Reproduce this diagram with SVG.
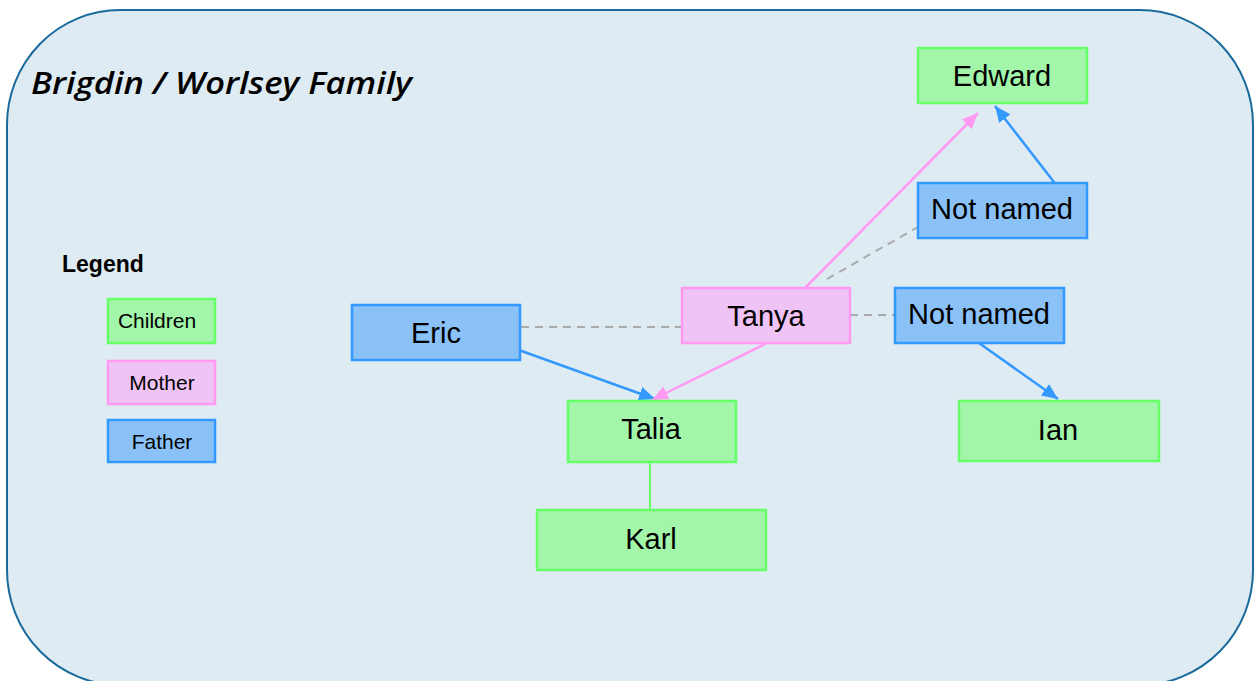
<svg xmlns="http://www.w3.org/2000/svg" width="1254" height="681" viewBox="0 0 1254 681">
<defs>
<style>
.bg{fill:#deebf3;stroke:#1a6a9c;stroke-width:2}
.child{fill:#a3f5aa;stroke:#66ff66;stroke-width:2.5}
.father{fill:#8ac2f8;stroke:#3399ff;stroke-width:2.5}
.mother{fill:#f0c3f6;stroke:#ff99f2;stroke-width:2.5}
.lbl{font-family:"Liberation Sans",Arial,sans-serif;font-size:29px;fill:#000;text-anchor:middle}
.leg{font-family:"Liberation Sans",Arial,sans-serif;font-size:21px;fill:#000;text-anchor:middle}
.blue{stroke:#3399ff;stroke-width:2.5;fill:none}
.pink{stroke:#ff99f2;stroke-width:2.5;fill:none}
.dash{stroke:#aaaaaa;stroke-width:2;stroke-dasharray:8,6;fill:none}
.green{stroke:#66ff66;stroke-width:2;fill:none}
</style>
<marker id="ab" markerUnits="userSpaceOnUse" markerWidth="20" markerHeight="16" refX="16" refY="7" orient="auto">
<path d="M0,0 L16,7 L0,14 z" fill="#3399ff"/>
</marker>
<marker id="ap" markerUnits="userSpaceOnUse" markerWidth="20" markerHeight="16" refX="16" refY="7" orient="auto">
<path d="M0,0 L16,7 L0,14 z" fill="#ff99f2"/>
</marker>
</defs>
<rect class="bg" x="7" y="10" width="1246" height="675" rx="113" ry="115"/>
<text x="31" y="94" font-family="'Open Sans','Noto Sans',sans-serif" font-size="31" font-weight="600" font-style="italic" textLength="381" lengthAdjust="spacingAndGlyphs">Brigdin / Worlsey Family</text>
<g id="legend">
<text x="62" y="272" font-family="'Liberation Sans',Arial,sans-serif" font-size="23" font-weight="bold">Legend</text>
<rect class="child" x="108" y="299" width="107" height="44"/>
<text class="leg" x="157" y="328">Children</text>
<rect class="mother" x="108" y="361" width="107" height="43"/>
<text class="leg" x="162" y="390">Mother</text>
<rect class="father" x="108" y="420" width="107" height="42"/>
<text class="leg" x="162" y="449">Father</text>
</g>
<g id="connectors">
<line class="dash" x1="521" y1="327" x2="682" y2="327"/>
<line class="dash" x1="850" y1="315" x2="895" y2="315"/>
<line class="dash" x1="827" y1="279" x2="918" y2="227"/>
<line class="pink" x1="805" y1="288" x2="978" y2="113" marker-end="url(#ap)"/>
<line class="blue" x1="1064" y1="195" x2="995" y2="106" marker-end="url(#ab)"/>
<line class="blue" x1="516" y1="349" x2="655" y2="399" marker-end="url(#ab)"/>
<line class="pink" x1="767" y1="343" x2="652" y2="400" marker-end="url(#ap)"/>
<line class="blue" x1="979" y1="343" x2="1058" y2="399" marker-end="url(#ab)"/>
<line class="green" x1="650" y1="462" x2="650" y2="510"/>
</g>
<g id="edward"><rect class="child" x="918" y="48" width="169" height="55"/><text class="lbl" x="1002" y="86">Edward</text></g>
<g id="notnamed1"><rect class="father" x="918" y="183" width="169" height="55"/><text class="lbl" x="1002" y="219">Not named</text></g>
<g id="tanya"><rect class="mother" x="682" y="288" width="168" height="55"/><text class="lbl" x="766" y="326">Tanya</text></g>
<g id="notnamed2"><rect class="father" x="895" y="288" width="169" height="55"/><text class="lbl" x="979" y="324">Not named</text></g>
<g id="eric"><rect class="father" x="352" y="305" width="168" height="55"/><text class="lbl" x="436" y="343">Eric</text></g>
<g id="talia"><rect class="child" x="568" y="401" width="168" height="61"/><text class="lbl" x="651" y="439">Talia</text></g>
<g id="ian"><rect class="child" x="959" y="401" width="200" height="60"/><text class="lbl" x="1058" y="440">Ian</text></g>
<g id="karl"><rect class="child" x="537" y="510" width="229" height="60"/><text class="lbl" x="651" y="549">Karl</text></g>
</svg>
